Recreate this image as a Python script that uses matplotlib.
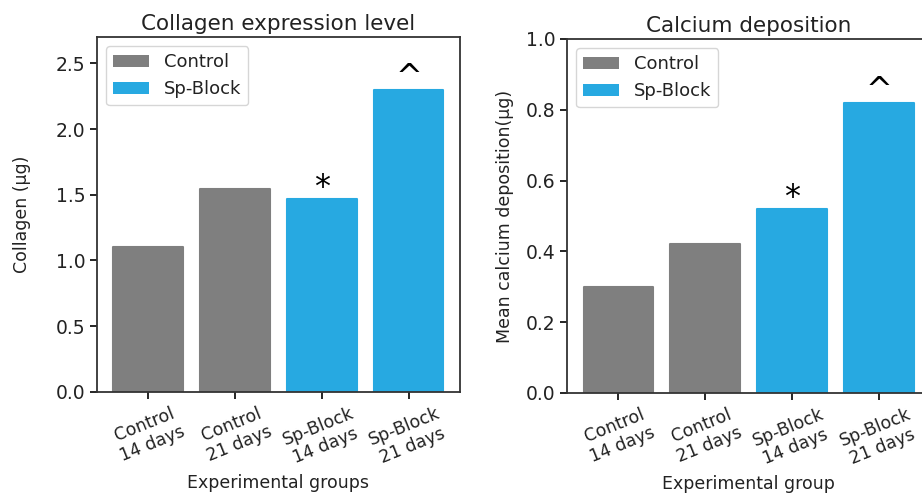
import matplotlib
matplotlib.use("Agg")
import matplotlib.pyplot as plt

# data
groups = ["Control\n14 days", "Control\n21 days", "Sp-Block\n14 days", "Sp-Block\n21 days"]
collagen = [1.10, 1.54, 1.47, 2.30]
calcium = [0.30, 0.42, 0.52, 0.82]
marks = ["", "", "*", "^"]

GRAY = "#7f7f7f"
BLUE = "#27a9e1"
colors = [GRAY, GRAY, BLUE, BLUE]


def draw(ax, values, title, ylabel, xlabel, ylim, pad):
    x = range(len(groups))
    ax.bar(x, values, width=0.8, color=colors, edgecolor=colors,
           linewidth=1.5, joinstyle="round")
    for i, (v, m) in enumerate(zip(values, marks)):
        if m:
            ax.annotate(m, xy=(i, v), xytext=(0, -3), textcoords="offset points",
                        ha="center", va="bottom", fontsize=23)
    ax.set_xticks(list(x))
    ax.set_xticklabels(groups, rotation=22, ha="center", fontsize=12.5,
                       color="#222222")
    ax.tick_params(axis="y", labelsize=13.5, labelcolor="#222222")
    ax.tick_params(length=5, width=1.2)
    for s in ax.spines.values():
        s.set_linewidth(1.3)
        s.set_color("#333333")
    ax.set_ylim(*ylim)
    ax.set_title(title, fontsize=15.5, color="#222222", pad=5)
    ax.set_ylabel(ylabel, fontsize=12.5, labelpad=pad, color="#222222")
    ax.set_xlabel(xlabel, fontsize=12.5, color="#222222")
    # legend proxies
    ax.bar([0], [0], color=GRAY, label="Control")
    ax.bar([0], [0], color=BLUE, label="Sp-Block")
    ax.legend(loc="upper left", fontsize=13, labelcolor="#222222")


fig = plt.figure(figsize=(9.22, 4.97), dpi=100)
ax1 = fig.add_axes([0.1052, 0.2113, 0.3937, 0.7143])
ax2 = fig.add_axes([0.615, 0.2093, 0.3937, 0.7123])

draw(ax1, collagen, "Collagen expression level", "Collagen (µg)",
     "Experimental groups", (0, 2.7), 18)
draw(ax2, calcium, "Calcium deposition", "Mean calcium deposition(µg)",
     "Experimental group", (0, 1.0), 8)

fig.savefig("out.png", dpi=100)
